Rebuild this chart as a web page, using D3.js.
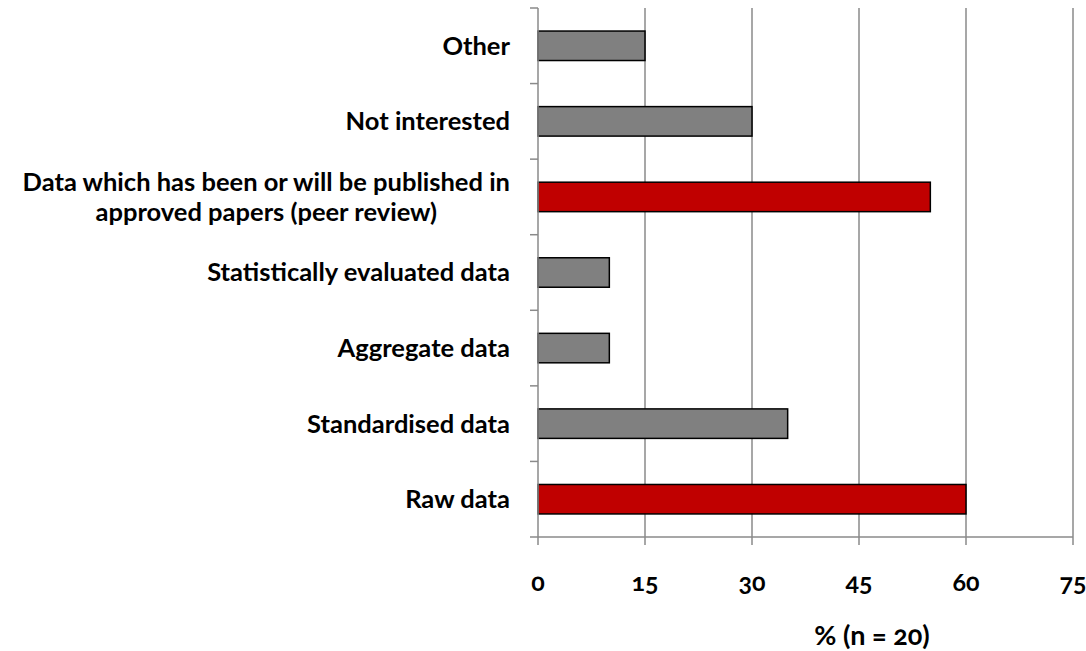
<!DOCTYPE html>
<html>
<head>
<meta charset="utf-8">
<script src="https://cdn.jsdelivr.net/npm/d3@7"></script>
<style>
  html, body { margin: 0; padding: 0; background: #fff; }
  svg text { font-family: "Lato", "Open Sans", sans-serif; font-weight: 700; fill: #000; }
</style>
</head>
<body>
<svg id="chart" width="1086" height="651"></svg>
<script>
// Categories, top to bottom ("|" marks a line break)
const categories = [
  "Other",
  "Not interested",
  "Data which has been or will be published in|approved papers (peer review)",
  "Statistically evaluated data",
  "Aggregate data",
  "Standardised data",
  "Raw data"
];
// Share of respondents (%)
const values = [15, 30, 55, 10, 10, 35, 60];
// Highlighted answers are drawn in red
const highlighted = [false, false, true, false, false, false, true];
const xTicks = [0, 15, 30, 45, 60, 75];
const xTitle = "% (n = 20)";

const svg = d3.select("#chart");
const plotLeft = 538, plotRight = 1073, plotTop = 8, plotBottom = 537;
const axisGrey = "#8a8a8a";

const x = d3.scaleLinear().domain([0, 75]).range([plotLeft, plotRight]);
const y = d3.scaleBand().domain(categories).range([plotTop, plotBottom]).paddingInner(0.61).paddingOuter(0.305);

// Vertical gridlines
svg.append("g")
  .selectAll("line")
  .data(xTicks.slice(1))
  .join("line")
  .attr("x1", d => x(d)).attr("x2", d => x(d))
  .attr("y1", plotTop).attr("y2", plotBottom)
  .attr("stroke", axisGrey).attr("stroke-width", 1.5);

// Bars
svg.append("g")
  .selectAll("rect")
  .data(categories)
  .join("rect")
  .attr("x", x(0))
  .attr("y", d => y(d))
  .attr("width", (d, i) => x(values[i]) - x(0))
  .attr("height", y.bandwidth())
  .attr("fill", (d, i) => highlighted[i] ? "#c00000" : "#808080")
  .attr("stroke", "#000").attr("stroke-width", 1.5);

// Category axis: line plus ticks at band boundaries
const yAxis = svg.append("g");
yAxis.append("line")
  .attr("x1", plotLeft).attr("x2", plotLeft).attr("y1", plotTop).attr("y2", plotBottom)
  .attr("stroke", axisGrey).attr("stroke-width", 1.5);
const bounds = d3.range(categories.length + 1).map(i => plotTop + i * (plotBottom - plotTop) / categories.length);
yAxis.selectAll("line.tick")
  .data(bounds)
  .join("line")
  .attr("class", "tick")
  .attr("x1", plotLeft - 8).attr("x2", plotLeft)
  .attr("y1", d => d).attr("y2", d => d)
  .attr("stroke", axisGrey).attr("stroke-width", 1.5);

// Category labels: wrapped lines are centred on each other, block right edge near the axis
const labelRight = 510;
categories.forEach(c => {
  const lines = c.split("|");
  const cy = y(c) + y.bandwidth() / 2;
  const lh = 30;
  const t = svg.append("text")
    .attr("text-anchor", "middle")
    .attr("font-size", 25.5);
  const spans = lines.map((ln, k) => t.append("tspan")
      .attr("y", cy + (k - (lines.length - 1) / 2) * lh)
      .attr("dy", "0.35em")
      .text(ln));
  const maxW = d3.max(spans, s => s.node().getComputedTextLength());
  spans.forEach(s => s.attr("x", labelRight - maxW / 2));
});

// Value axis
const xAxis = svg.append("g");
xAxis.append("line")
  .attr("x1", plotLeft).attr("x2", plotRight).attr("y1", plotBottom).attr("y2", plotBottom)
  .attr("stroke", axisGrey).attr("stroke-width", 1.5);
xAxis.selectAll("line.tick")
  .data(xTicks)
  .join("line")
  .attr("class", "tick")
  .attr("x1", d => x(d)).attr("x2", d => x(d))
  .attr("y1", plotBottom).attr("y2", plotBottom + 8)
  .attr("stroke", axisGrey).attr("stroke-width", 1.5);
xAxis.selectAll("text")
  .data(xTicks)
  .join("text")
  .attr("x", d => x(d))
  .attr("y", 591)
  .attr("text-anchor", "middle")
  .attr("font-size", 25)
  .style("font-variant-numeric", "oldstyle-nums")
  .text(d => d);

svg.append("text")
  .attr("x", 872).attr("y", 645)
  .attr("text-anchor", "middle")
  .attr("font-size", 27)
  .style("font-variant-numeric", "oldstyle-nums")
  .text(xTitle);
</script>
</body>
</html>
